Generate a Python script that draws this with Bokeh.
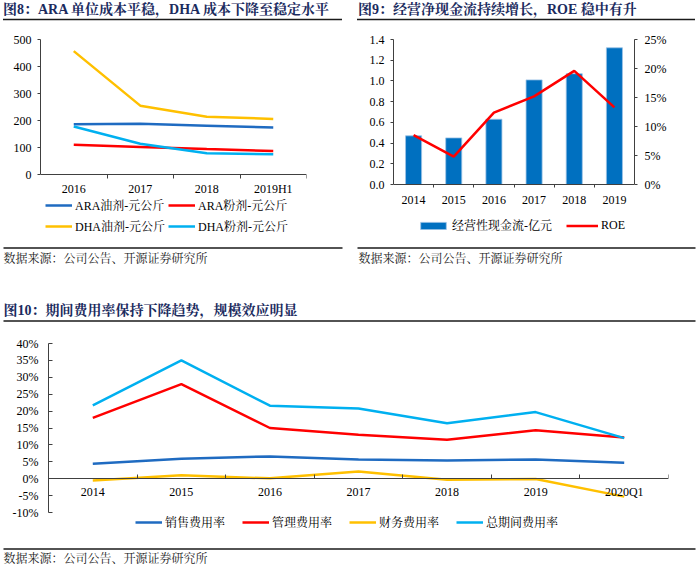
from bokeh.plotting import figure
from bokeh.models import (Range1d, LinearAxis, FixedTicker, PrintfTickFormatter,
                          Legend, LegendItem, Div)
from bokeh.layouts import column, row
from bokeh.embed import file_html
from bokeh.resources import INLINE
from bokeh.core.properties import value

FONT = "'Times New Roman', 'Liberation Serif', 'Noto Serif CJK SC', 'Noto Sans CJK SC', serif"
TITLE_COLOR = "#1B2B5E"
AXIS_COLOR = "#404040"
C_DBLUE = "#1F6BC1"
C_RED = "#FF0000"
C_GOLD = "#FFC000"
C_LBLUE = "#00B0F0"
C_BAR = "#0070C0"

# ---------------- data ----------------
title8 = "图8：ARA 单位成本平稳，DHA 成本下降至稳定水平"
years8 = ["2016", "2017", "2018", "2019H1"]
ara_oil = [186, 188, 181, 174]
ara_powder = [110, 102, 94, 87]
dha_oil = [457, 255, 214, 206]
dha_powder = [178, 114, 79, 75]
names8 = ["ARA油剂-元公斤", "ARA粉剂-元公斤", "DHA油剂-元公斤", "DHA粉剂-元公斤"]
yticks8 = [0, 100, 200, 300, 400, 500]

title9 = "图9：经营净现金流持续增长，ROE 稳中有升"
years9 = ["2014", "2015", "2016", "2017", "2018", "2019"]
cashflow = [0.47, 0.45, 0.63, 1.01, 1.07, 1.32]
roe = [8.5, 4.8, 12.4, 15.2, 19.6, 13.3]
names9 = ["经营性现金流-亿元", "ROE"]
yticks9 = [0.0, 0.2, 0.4, 0.6, 0.8, 1.0, 1.2, 1.4]
yticks9r = [0, 5, 10, 15, 20, 25]

title10 = "图10：期间费用率保持下降趋势，规模效应明显"
periods10 = ["2014", "2015", "2016", "2017", "2018", "2019", "2020Q1"]
selling = [4.4, 5.9, 6.6, 5.7, 5.4, 5.7, 4.7]
admin = [18.0, 28.0, 15.0, 13.0, 11.5, 14.3, 12.2]
finance = [-0.5, 1.0, 0.1, 2.1, -0.3, -0.1, -5.3]
total = [21.7, 35.0, 21.6, 20.8, 16.4, 19.7, 12.0]
names10 = ["销售费用率", "管理费用率", "财务费用率", "总期间费用率"]
yticks10 = [-10, -5, 0, 5, 10, 15, 20, 25, 30, 35, 40]

source_text = "数据来源：公司公告、开源证券研究所"


# ---------------- helpers ----------------
def text_html(text, x, y, size, bold, color):
    weight = "bold" if bold else "normal"
    return (f'<div style="position:absolute;left:{x}px;top:{y}px;transform:translateY(-50%);'
            f'white-space:nowrap;font-family:{FONT};font-size:{size};font-weight:{weight};'
            f'color:{color};line-height:1.2;">{text}</div>')


def div_strip(width, height, texts, rules):
    # texts: (text, x, y, size, bold, color); rules: (x0, x1, y)
    lines = "".join(
        f'<line x1="{x0}" y1="{y}" x2="{x1}" y2="{y}" stroke="#1a1a1a" stroke-width="1.3"/>'
        for (x0, x1, y) in rules)
    html = (f'<div style="position:relative;width:{width}px;height:{height}px;">'
            + "".join(text_html(*t) for t in texts)
            + f'<svg width="{width}" height="{height}" '
              f'style="position:absolute;left:0;top:0;">{lines}</svg></div>')
    return Div(text=html, width=width, height=height, margin=0)


def fig_strip(width, height, texts, rules):
    # decorative strip drawn as a plain figure (pixel coordinates, y downwards)
    p = figure(width=width, height=height, x_range=Range1d(0, width), y_range=Range1d(height, 0),
               output_backend="svg", toolbar_location=None, min_border=0,
               x_axis_location=None, y_axis_location=None, outline_line_color=None)
    p.grid.visible = False
    for (t, x, y, size, bold, color) in texts:
        p.text(x=[x], y=[y], text=[t], text_font=value(FONT), text_font_size=size,
               text_font_style="bold" if bold else "normal", text_color=color,
               text_baseline="middle", text_align="left")
    for (x0, x1, y) in rules:
        p.segment(x0=[x0], x1=[x1], y0=[y], y1=[y], line_color="#1a1a1a", line_width=1.3)
    return p


def style_axis(ax, size="12px"):
    ax.axis_line_color = AXIS_COLOR
    ax.major_tick_line_color = AXIS_COLOR
    ax.minor_tick_line_color = AXIS_COLOR
    ax.major_label_text_font = FONT
    ax.major_label_text_font_size = size
    ax.major_label_text_color = "#000000"


def zero_xaxis(p, n, tick_in, tick_out):
    # category axis drawn along the zero line, with ticks at category boundaries
    ax = p.xaxis[0]
    style_axis(ax)
    ax.fixed_location = 0
    ax.ticker = FixedTicker(ticks=[], minor_ticks=list(range(1, n + 1)))
    ax.major_tick_line_color = None
    ax.major_tick_out = 0
    ax.major_tick_in = 0
    ax.minor_tick_in = tick_in
    ax.minor_tick_out = tick_out


def cat_labels(p, xs, labels, offset):
    p.text(x=xs, y=[0] * len(xs), text=labels, y_offset=offset,
           text_font=value(FONT), text_font_size="12px", text_color="#000000",
           text_align="center", text_baseline="middle")


def style_legend(lg, glyph_w=27):
    lg.label_text_font = FONT
    lg.label_text_font_size = "12px"
    lg.label_text_color = "#000000"
    lg.glyph_width = glyph_w
    lg.glyph_height = 18
    lg.label_height = 18
    lg.label_standoff = 3
    lg.padding = 0
    lg.margin = 0
    lg.border_line_color = None
    lg.background_fill_alpha = 0


# ---------------- chart 8 ----------------
H8, TOP8, PLOT8, BOT8 = 217, 17, 135, 2          # px: fig height, top border, 0..500 span, bottom border
frame8 = H8 - TOP8 - BOT8
ylo8 = -(frame8 - PLOT8) * 500 / PLOT8
n8 = len(years8)
x8 = [i + 0.5 for i in range(n8)]
p8 = figure(width=350, height=H8, x_range=Range1d(0, n8), y_range=Range1d(ylo8, 500),
            output_backend="svg", toolbar_location=None, x_axis_location="above",
            min_border_left=40, min_border_right=44, min_border_top=TOP8, min_border_bottom=BOT8,
            outline_line_color=None)
p8.grid.visible = False
r8 = []
for vals, col in zip([ara_oil, ara_powder, dha_oil, dha_powder], [C_DBLUE, C_RED, C_GOLD, C_LBLUE]):
    r8.append(p8.line(x=x8, y=vals, line_color=col, line_width=2.5))
zero_xaxis(p8, n8, 4, 0)
cat_labels(p8, x8, years8, 14)
ya8 = p8.yaxis[0]
ya8.ticker = FixedTicker(ticks=yticks8, minor_ticks=[])
ya8.bounds = (0, 500)
style_axis(ya8)
ya8.major_tick_out = 3
ya8.major_tick_in = 0
ya8.major_label_standoff = 6
lg8 = Legend(items=[LegendItem(label=n, renderers=[r]) for n, r in zip(names8, r8)],
             orientation="horizontal", ncols=2, location=(5, 2))
style_legend(lg8)
lg8.spacing = 3
p8.add_layout(lg8)

# ---------------- chart 9 ----------------
H9, TOP9, PLOT9, BOT9 = 217, 17, 145, 2
frame9 = H9 - TOP9 - BOT9
ylo9 = -(frame9 - PLOT9) * 1.4 / PLOT9
ylo9r = -(frame9 - PLOT9) * 25 / PLOT9
n9 = len(years9)
x9 = [i + 0.5 for i in range(n9)]
p9 = figure(width=350, height=H9, x_range=Range1d(0, n9), y_range=Range1d(ylo9, 1.4),
            output_backend="svg", toolbar_location=None, x_axis_location="above",
            min_border_left=43, min_border_right=66, min_border_top=TOP9, min_border_bottom=BOT9,
            outline_line_color=None)
p9.grid.visible = False
p9.extra_y_ranges = {"roe": Range1d(ylo9r, 25)}
bars = p9.vbar(x=x9, top=cashflow, bottom=0, width=0.4, fill_color=C_BAR,
               line_color="#9DC3E6", line_width=0.8)
roe_line = p9.line(x=x9, y=roe, y_range_name="roe", line_color=C_RED, line_width=2.5)
zero_xaxis(p9, n9 - 1, 3, 0)
cat_labels(p9, x9, years9, 15)
ya9 = p9.yaxis[0]
ya9.ticker = FixedTicker(ticks=yticks9, minor_ticks=[])
ya9.formatter = PrintfTickFormatter(format="%.1f")
ya9.bounds = (0, 1.4)
style_axis(ya9)
ya9.major_tick_out = 3
ya9.major_tick_in = 0
ya9.major_label_standoff = 6
rax = LinearAxis(y_range_name="roe", ticker=FixedTicker(ticks=yticks9r, minor_ticks=[]),
                 formatter=PrintfTickFormatter(format="%d%%"), bounds=(0, 25))
p9.add_layout(rax, "right")
style_axis(rax)
rax.major_tick_out = 3
rax.major_tick_in = 0
rax.major_label_standoff = 7
lg9 = Legend(items=[LegendItem(label=names9[0], renderers=[bars]),
                    LegendItem(label=names9[1], renderers=[roe_line])],
             orientation="horizontal", location=(24, 3))
style_legend(lg9, glyph_w=32)
lg9.glyph_height = 9
lg9.spacing = 14
p9.add_layout(lg9)

# ---------------- chart 10 ----------------
H10, TOP10, PLOT10, BOT10 = 213, 21, 169, 2
frame10 = H10 - TOP10 - BOT10
ylo10 = -10 - (frame10 - PLOT10) * 50 / PLOT10
n10 = len(periods10)
x10 = [i + 0.5 for i in range(n10)]
p10 = figure(width=700, height=H10, x_range=Range1d(0, n10), y_range=Range1d(ylo10, 40),
             output_backend="svg", toolbar_location=None, x_axis_location="above",
             min_border_left=48, min_border_right=32, min_border_top=TOP10, min_border_bottom=BOT10,
             outline_line_color=None)
p10.grid.visible = False
r10 = []
for vals, col in zip([selling, admin, finance, total], [C_DBLUE, C_RED, C_GOLD, C_LBLUE]):
    r10.append(p10.line(x=x10, y=vals, line_color=col, line_width=2.5))
zero_xaxis(p10, n10, 0, 4)
cat_labels(p10, x10, periods10, 13)
ya = p10.yaxis[0]
ya.ticker = FixedTicker(ticks=yticks10, minor_ticks=[])
ya.formatter = PrintfTickFormatter(format="%d%%")
ya.bounds = (-10, 40)
style_axis(ya)
ya.major_tick_in = 4
ya.major_tick_out = 0
ya.major_label_standoff = 10
lg10 = Legend(items=[LegendItem(label=n, renderers=[r]) for n, r in zip(names10, r10)],
              orientation="horizontal", location=(87, 2))
style_legend(lg10)
lg10.spacing = 17
p10.add_layout(lg10)

# ---------------- headers / footers ----------------
h8 = div_strip(350, 22, [(title8, 3, 10, "14px", True, TITLE_COLOR)], [(3, 342, 19.5)])
h9 = div_strip(350, 22, [(title9, 8, 10, "14px", True, TITLE_COLOR)], [(7, 345, 19.5)])
mid = fig_strip(700, 83,
                [(source_text, 3, 19, "12px", False, "#222222"),
                 (source_text, 358, 19, "12px", False, "#222222"),
                 (title10, 3, 71, "14px", True, TITLE_COLOR)],
                [(3, 342, 8.5), (357, 695, 8.5), (3, 695, 81.5)])
f10 = fig_strip(700, 33, [(source_text, 3, 23, "12px", False, "#222222")], [(3, 695, 13.5)])

layout = column(row(column(h8, p8), column(h9, p9)), row(mid), p10, row(f10))

open("out.html", "w").write(file_html(layout, INLINE))
